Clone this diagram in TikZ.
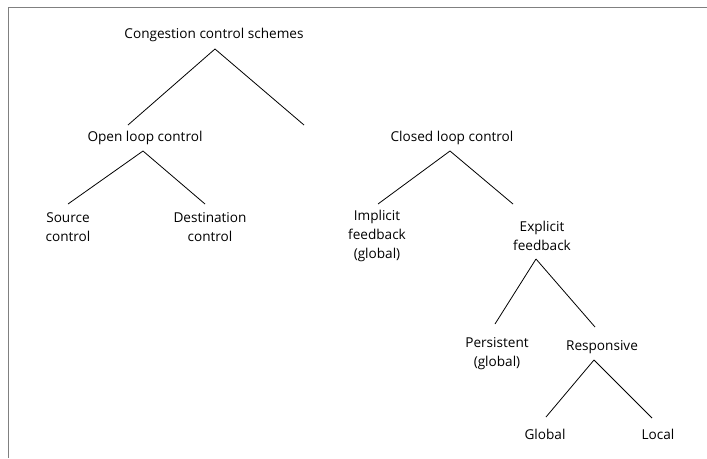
\documentclass[tikz,border=0pt]{standalone}
\usepackage{fontspec}
\setmainfont{Open Sans}
\begin{document}
\begin{tikzpicture}[x=1pt,y=-1pt,font=\fontsize{13.6}{19}\selectfont]
\tikzset{lbl/.style={align=center, inner sep=1pt}}
\useasboundingbox (0,0) rectangle (707,458);
\draw[gray, thin] (8,458) -- (8,7) -- (707,7);
\node[lbl] (CCS) at (214,35) {Congestion control schemes};
\node[lbl] (OLC) at (145,138) {Open loop control};
\node[lbl] (CLC) at (452,138) {Closed loop control};
\node[lbl] (SC) at (68,227) {Source\\control};
\node[lbl] (DC) at (210,227) {Destination\\control};
\node[lbl] (IF) at (377,236) {Implicit\\feedback\\(global)};
\node[lbl] (EF) at (542,236) {Explicit\\feedback};
\node[lbl] (PG) at (497,354) {Persistent\\(global)};
\node[lbl] (RS) at (602,347) {Responsive};
\node[lbl] (GL) at (545,434) {Global};
\node[lbl] (LC) at (658,434) {Local};
\coordinate (a1) at (215,49); \coordinate (a2) at (128,125); \coordinate (a3) at (304,125);
\coordinate (b1) at (143,151); \coordinate (b2) at (68,204); \coordinate (b3) at (205,204);
\coordinate (c1) at (450,151); \coordinate (c2) at (378,204); \coordinate (c3) at (513,204);
\coordinate (d1) at (536,259); \coordinate (d2) at (495,324); \coordinate (d3) at (595,327);
\coordinate (e1) at (594,360); \coordinate (e2) at (546,417); \coordinate (e3) at (652,418);
\path [-, thick, draw=black] (a1) edge (a2);
\path [-, thick, draw=black] (a1) edge (a3);
\path [-, thick, draw=black] (b1) edge (b2);
\path [-, thick, draw=black] (b1) edge (b3);
\path [-, thick, draw=black] (c1) edge (c2);
\path [-, thick, draw=black] (c1) edge (c3);
\path [-, thick, draw=black] (d1) edge (d2);
\path [-, thick, draw=black] (d1) edge (d3);
\path [-, thick, draw=black] (e1) edge (e2);
\path [-, thick, draw=black] (e1) edge (e3);
\end{tikzpicture}
\end{document}
